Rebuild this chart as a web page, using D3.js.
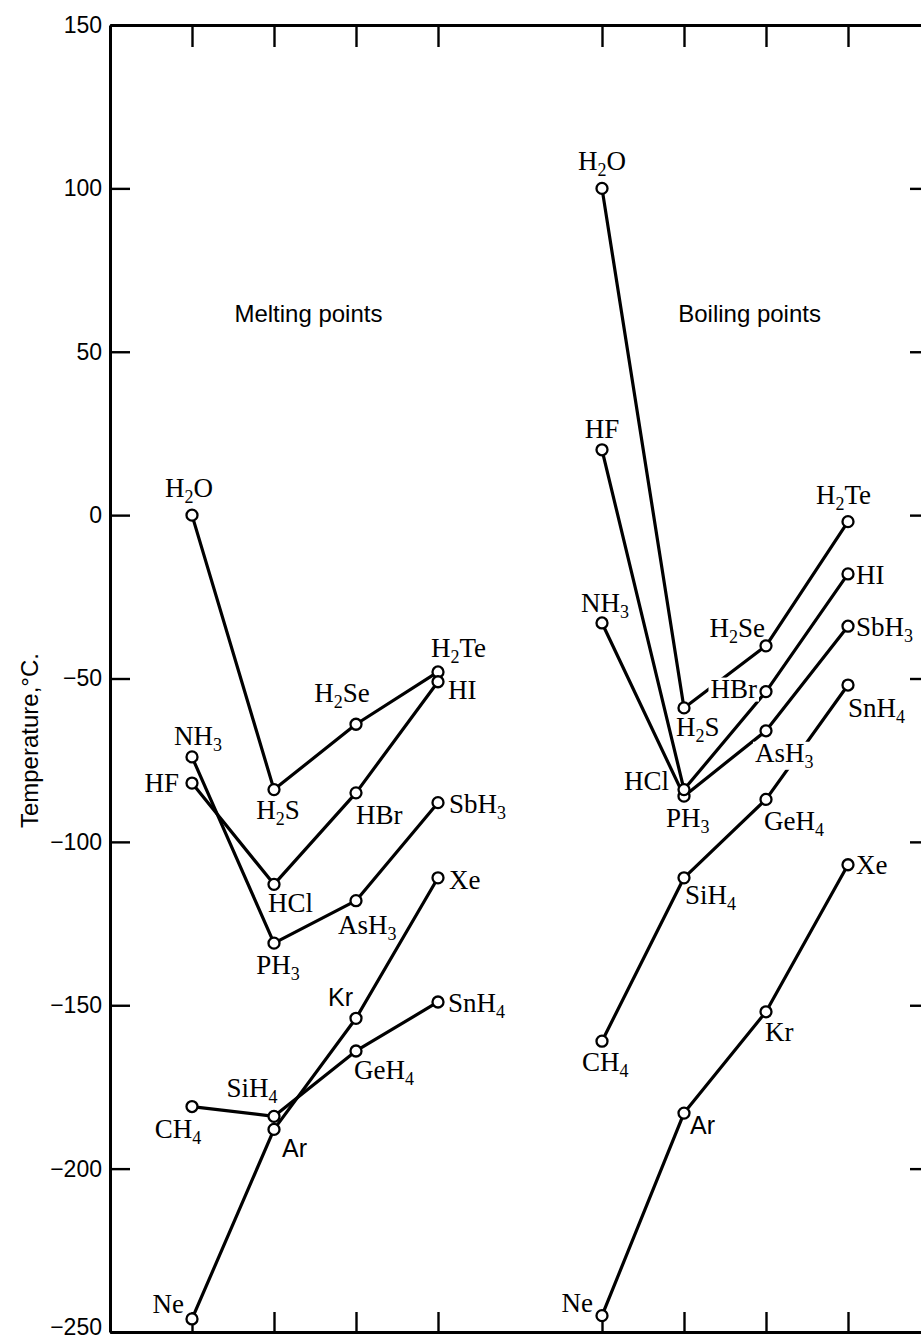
<!DOCTYPE html>
<html>
<head>
<meta charset="utf-8">
<script src="https://cdn.jsdelivr.net/npm/d3@7"></script>
<style>
  body { margin: 0; background: white; }
  svg { display: block; }
</style>
</head>
<body>
<svg class="chart"></svg>
<script>
const width = 921;
const height = 1343;

const yTicks = [150, 100, 50, 0, -50, -100, -150, -200, -250];
const meltColumns = [0, 1, 2, 3];
const boilColumns = [5, 6, 7, 8];

// compounds of each family, period 2 -> 5
const nobleNames = ["Ne", "Ar", "Kr", "Xe"];
const group14Names = ["CH4", "SiH4", "GeH4", "SnH4"];
const group15Names = ["NH3", "PH3", "AsH3", "SbH3"];
const group16Names = ["H2O", "H2S", "H2Se", "H2Te"];
const group17Names = ["HF", "HCl", "HBr", "HI"];

// melting points, deg C
const meltNoble = [-246, -188, -154, -111];
const meltGroup14 = [-181, -184, -164, -149];
const meltGroup15 = [-74, -131, -118, -88];
const meltGroup16 = [0, -84, -64, -48];
const meltGroup17 = [-82, -113, -85, -51];

// boiling points, deg C
const boilNoble = [-245, -183, -152, -107];
const boilGroup14 = [-161, -111, -87, -52];
const boilGroup15 = [-33, -86, -66, -34];
const boilGroup16 = [100, -59, -40, -2];
const boilGroup17 = [20, -84, -54, -18];

// label placement: [dx, dy, anchor, knockout, sans]
const meltLabels = {
    "H2O": [-3, -18, "middle"], "H2S": [4, 29, "middle"], "H2Se": [-14, -22, "middle"],
    "H2Te": [-7, -15, "start"], "HI": [10, 17, "start"], "NH3": [6, -12, "middle"],
    "HF": [-13, 9, "end"], "HCl": [-6, 28, "start"], "HBr": [0, 31, "start"],
    "PH3": [4, 31, "middle"], "AsH3": [-18, 33, "start"], "SbH3": [11, 10, "start"],
    "Xe": [11, 11, "start"], "Kr": [-3, -12, "end", false, true], "SnH4": [10, 10, "start"],
    "GeH4": [-2, 28, "start"], "SiH4": [-22, -19, "middle"], "CH4": [-14, 31, "middle"],
    "Ar": [8, 28, "start", false, true], "Ne": [-8, -6, "end"]
};
const boilLabels = {
    "H2O": [0, -18, "middle"], "HF": [0, -12, "middle"], "NH3": [3, -11, "middle"],
    "H2S": [-8, 28, "start"], "HCl": [-15, 0, "end"], "PH3": [-18, 31, "start"],
    "H2Se": [-1, -9, "end"], "HBr": [-9, 6, "end", true], "AsH3": [-11, 31, "start", true],
    "H2Te": [-32, -18, "start"], "HI": [8, 10, "start"], "SbH3": [8, 10, "start"],
    "SnH4": [0, 32, "start"], "GeH4": [-2, 31, "start"], "SiH4": [1, 26, "start"],
    "CH4": [-20, 30, "start"], "Ne": [-9, -4, "end"], "Ar": [6, 21, "start", false, true],
    "Kr": [-1, 29, "start"], "Xe": [8, 9, "start"]
};

const serif = "'Liberation Serif', 'DejaVu Serif', serif";
const sans = "'Liberation Sans', Arial, sans-serif";

const svg = d3.select("svg.chart")
    .attr("width", width)
    .attr("height", height);

const x = d3.scaleLinear().domain([-1, 9]).range([110, 930]);
const y = d3.scaleLinear().domain([-250, 150]).range([1332, 25]);

// axes: frame with inward ticks
const left = svg.append("g")
    .attr("transform", `translate(${x(-1)},0)`)
    .call(d3.axisLeft(y).tickValues(yTicks).tickSize(-20).tickSizeOuter(0).tickPadding(8));
left.selectAll("text")
    .attr("font-family", sans)
    .attr("font-size", 23)
    .attr("fill", "black")
    .attr("dy", d => d === -250 ? "0.1em" : "0.32em");

svg.append("g")
    .attr("transform", `translate(${x(9)},0)`)
    .call(d3.axisRight(y).tickValues(yTicks.slice(1, -1)).tickSize(-20).tickSizeOuter(0).tickFormat(""));

svg.append("g")
    .attr("transform", `translate(0,${y(150)})`)
    .call(d3.axisTop(x).tickValues(meltColumns.concat(boilColumns)).tickSize(-22).tickSizeOuter(0).tickFormat(""));

svg.append("g")
    .attr("transform", `translate(0,${y(-250)})`)
    .call(d3.axisBottom(x).tickValues(meltColumns.concat(boilColumns)).tickSize(-20).tickSizeOuter(0).tickFormat(""));

svg.selectAll(".domain").attr("stroke", "black").attr("stroke-width", 3);
svg.selectAll(".tick line").attr("stroke", "black").attr("stroke-width", 2.4);

svg.append("text")
    .attr("transform", `translate(38,${y(-69)}) rotate(-90)`)
    .attr("text-anchor", "middle")
    .attr("font-family", sans)
    .attr("font-size", 24)
    .text("Temperature,°C.");

svg.append("text")
    .attr("x", x(1.42)).attr("y", y(59))
    .attr("text-anchor", "middle")
    .attr("font-family", sans).attr("font-size", 24)
    .text("Melting points");

svg.append("text")
    .attr("x", x(6.8)).attr("y", y(59))
    .attr("text-anchor", "middle")
    .attr("font-family", sans).attr("font-size", 24)
    .text("Boiling points");

const families = [nobleNames, group14Names, group15Names, group16Names, group17Names];
const meltSeries = [meltNoble, meltGroup14, meltGroup15, meltGroup16, meltGroup17];
const boilSeries = [boilNoble, boilGroup14, boilGroup15, boilGroup16, boilGroup17];

drawPanel(meltColumns, meltSeries, meltLabels);
drawPanel(boilColumns, boilSeries, boilLabels);

function drawPanel(columns, series, placement) {
    const panel = svg.append("g");
    const lineLayer = panel.append("g");
    const labelLayer = panel.append("g");
    const dotLayer = panel.append("g");

    const line = d3.line()
        .x(d => x(d.col))
        .y(d => y(d.value));

    series.forEach((values, i) => {
        const pts = values.map((v, j) => ({ col: columns[j], value: v, name: families[i][j] }));

        lineLayer.append("path")
            .datum(pts)
            .attr("d", line)
            .attr("fill", "none")
            .attr("stroke", "black")
            .attr("stroke-width", 3.2)
            .attr("stroke-linejoin", "round");

        dotLayer.selectAll(null)
            .data(pts)
            .join("circle")
            .attr("cx", d => x(d.col))
            .attr("cy", d => y(d.value))
            .attr("r", 5.5)
            .attr("fill", "white")
            .attr("stroke", "black")
            .attr("stroke-width", 2.3);

        pts.forEach(d => {
            const [dx, dy, anchor, knockout, isSans] = placement[d.name];
            const g = labelLayer.append("g");
            const t = g.append("text")
                .attr("x", x(d.col) + dx)
                .attr("y", y(d.value) + dy)
                .attr("text-anchor", anchor)
                .attr("font-family", isSans ? sans : serif)
                .attr("font-size", isSans ? 25 : 27);
            formula(t, d.name);
            if (knockout) {
                const b = t.node().getBBox();
                g.insert("rect", "text")
                    .attr("x", b.x - 2).attr("y", b.y + 4)
                    .attr("width", b.width + 4).attr("height", b.height - 6)
                    .attr("fill", "white");
            }
        });
    });
}

// write a formula with its digits as subscripts
function formula(text, name) {
    const parts = name.match(/\d+|\D+/g);
    let shifted = false;
    parts.forEach(p => {
        const isNum = /\d/.test(p);
        const span = text.append("tspan").text(p);
        if (isNum) {
            span.attr("font-size", 18).attr("dy", 6);
            shifted = true;
        } else if (shifted) {
            span.attr("dy", -6);
            shifted = false;
        }
    });
}
</script>
</body>
</html>
